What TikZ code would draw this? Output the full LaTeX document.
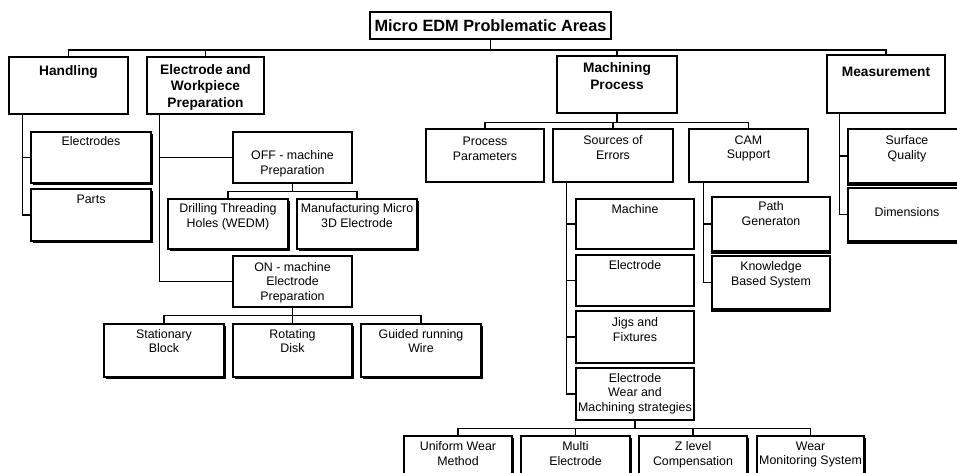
\documentclass[tikz,border=0pt]{standalone}
\usepackage{fontspec}
\setmainfont{Liberation Sans}
\usetikzlibrary{shadows}
\newcommand\mkbox[9]{%
  \node[#1, minimum width={(#6-#4)*1pt}, minimum height={(#7-#5)*1pt}] (#3) at ({(#4+#6)/2},{(#5+#7)/2}) {};
  \node[#2, anchor=north] (#3t) at ([yshift=-#8pt]#3.north) {#9};
}
\begin{document}
\begin{tikzpicture}[x=1pt,y=-1pt,
  box/.style={draw, line width=1.2pt, fill=white, inner sep=0pt},
  sbox/.style={box, drop shadow={shadow xshift=1.6pt, shadow yshift=-1.6pt, fill=black, opacity=1}},
  gbox/.style={box},
  conn/.style={line width=1.2pt},
  bar/.style={line width=1.8pt},
  tr/.style={font=\fontsize{12.4}{14.7}\selectfont, align=center, inner sep=0pt},
  tb/.style={font=\bfseries\fontsize{13.7}{16.8}\selectfont, align=center, inner sep=0pt},
  tt/.style={font=\bfseries\fontsize{16.3}{19}\selectfont}]
\useasboundingbox (0,0) rectangle (957,472);
\clip (0,0) rectangle (957,472);
\fill[white] (0,0) rectangle (957,472);
% title
\node[box, tt, minimum width=241pt, minimum height=27pt] (title) at (490.5,25.5) {Micro EDM Problematic Areas};
% level 1
\mkbox{box}{tb}{hand}{9}{57}{128}{114}{8.7}{Handling}
\mkbox{box}{tb}{ewp}{147}{57}{264}{114}{7.6}{Electrode and\\Workpiece\\Preparation}
\mkbox{box}{tb}{mach}{557}{56}{677}{113}{7}{Machining\\Process}
\mkbox{box}{tb}{meas}{827}{55}{945}{113}{12}{Measurement}
% handling
\mkbox{sbox}{tr}{elec}{31}{132}{151}{183}{5}{Electrodes}
\mkbox{sbox}{tr}{parts}{31}{189}{151}{241}{6.4}{Parts}
% electrode and workpiece
\mkbox{box}{tr}{off}{233}{132}{352}{183}{19.4}{OFF - machine\\Preparation}
\mkbox{sbox}{tr}{drill}{168}{199}{288}{249}{5.4}{Drilling Threading\\Holes (WEDM)}
\mkbox{sbox}{tr}{manu}{297}{199}{417}{249}{5.4}{Manufacturing Micro\\3D Electrode}
\mkbox{box}{tr}{on}{233}{256}{352}{307}{6.7}{ON - machine\\Electrode\\Preparation}
\mkbox{sbox}{tr}{stat}{104}{324}{224}{377}{5.7}{Stationary\\Block}
\mkbox{sbox}{tr}{rot}{233}{324}{352}{377}{5.7}{Rotating\\Disk}
\mkbox{sbox}{tr}{wire}{361}{324}{481}{377}{5.7}{Guided running\\Wire}
% machining
\mkbox{box}{tr}{proc}{426}{129}{544}{182}{8.5}{Process\\Parameters}
\mkbox{box}{tr}{src}{553}{129}{673}{182}{7}{Sources of\\Errors}
\mkbox{box}{tr}{cam}{689}{129}{808}{182}{7}{CAM\\Support}
\mkbox{box}{tr}{mch}{576}{199}{694}{249}{6}{Machine}
\mkbox{box}{tr}{ele}{576}{255}{694}{306}{6}{Electrode}
\mkbox{box}{tr}{jig}{576}{311}{694}{363}{7}{Jigs and\\Fixtures}
\mkbox{box}{tr}{ew}{576}{368}{694}{420}{5.7}{Electrode\\Wear and\\Machining strategies}
\mkbox{gbox}{tr}{path}{712}{197}{830}{251}{4.8}{Path\\Generaton}
\mkbox{gbox}{tr}{know}{712}{256}{830}{309}{6}{Knowledge\\Based System}
% measurement
\mkbox{gbox}{tr}{surf}{848}{129}{966}{183}{7}{Surface\\Quality}
\mkbox{gbox}{tr}{dim}{848}{188}{966}{241}{19.7}{Dimensions}
% bottom row
\mkbox{sbox}{tr}{unif}{404}{436}{512}{488}{6}{Uniform Wear\\Method}
\mkbox{sbox}{tr}{multi}{521}{436}{630}{488}{6}{Multi\\Electrode}
\mkbox{sbox}{tr}{zlev}{639}{436}{747}{488}{6}{Z level\\Compensation}
\mkbox{sbox}{tr}{wmon}{757}{436}{864}{488}{6}{Wear\\Monitoring System}
% bars under boxes
\foreach \n in {path,know,surf,dim}
  \draw[bar] ([yshift=-1.7pt]\n.south west) -- ([yshift=-1.7pt]\n.south east);
% connectors
\coordinate (bus) at (0,50);
\draw[conn] (title.south) -- (title.south |- bus);
\draw[conn] (hand.north) -- (hand.north |- bus) -- (meas.north |- bus) -- (meas.north);
\draw[conn] (ewp.north) -- (ewp.north |- bus);
\draw[conn] (mach.north) -- (mach.north |- bus);
\draw[conn] ([xshift=14pt]hand.south west) coordinate (h0) |- (elec.west);
\draw[conn] (h0) |- (parts.west);
\draw[conn] ([xshift=13pt]ewp.south west) coordinate (e0) |- (off.west);
\draw[conn] (e0) |- (on.west);
\draw[conn] (off.south) -- ++(0,8) coordinate (o1);
\draw[conn] (drill.north) |- (o1) -| (manu.north);
\draw[conn] (on.south) -- ++(0,8) coordinate (n1);
\draw[conn] (stat.north) |- (n1) -| (wire.north);
\draw[conn] (rot.north) -- (rot.north |- n1);
\draw[conn] (mach.south) -- ++(0,9) coordinate (m1);
\draw[conn] (proc.north) |- (m1) -| (cam.north);
\draw[conn] (src.north) -- (src.north |- m1);
\draw[conn] ([xshift=14pt]src.south west) coordinate (s0) |- (mch.west);
\draw[conn] (s0) |- (ele.west);
\draw[conn] (s0) |- (jig.west);
\draw[conn] (s0) |- (ew.west);
\draw[conn] ([xshift=15pt]cam.south west) coordinate (c0) |- (path.west);
\draw[conn] (c0) |- (know.west);
\draw[conn] ([xshift=13pt]meas.south west) coordinate (me0) |- (surf.west);
\draw[conn] (me0) |- (dim.west);
\draw[conn] (ew.south) -- ++(0,8) coordinate (w1);
\draw[conn] (unif.north) |- (w1) -| (wmon.north);
\draw[conn] (multi.north) -- (multi.north |- w1);
\draw[conn] (zlev.north) -- (zlev.north |- w1);
\end{tikzpicture}
\end{document}
